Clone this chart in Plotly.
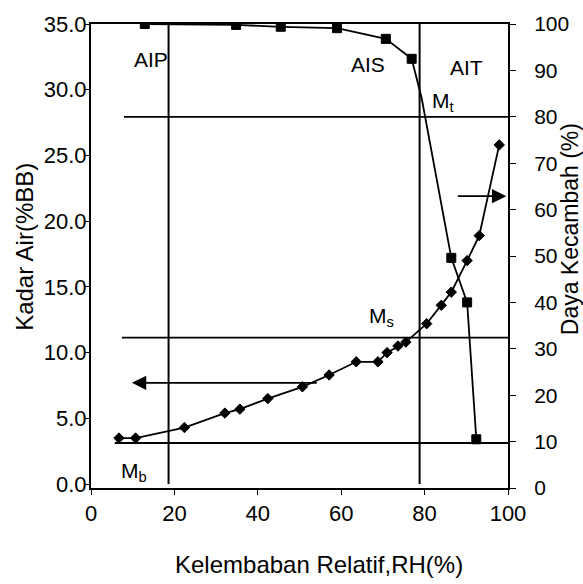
import plotly.graph_objects as go

# ---- data ----
rh_iso = [6.7, 10.7, 22.4, 32.1, 35.7, 42.4, 50.7, 57.1, 63.6, 68.8, 71.0, 73.6,
          75.5, 80.5, 84.0, 86.4, 90.2, 93.1, 97.9]
kadar_air = [3.5, 3.5, 4.3, 5.4, 5.7, 6.5, 7.4, 8.3, 9.3, 9.3, 10.0, 10.5,
             10.8, 12.2, 13.6, 14.6, 17.0, 18.9, 25.8]

rh_dk = [12.9, 34.8, 45.5, 59.0, 70.7, 76.9, 79.3, 86.4, 90.2, 92.4]
daya_kecambah = [100, 99.8, 99.4, 99.1, 96.8, 92.5, 84.0, 49.6, 40.0, 10.5]
dk_marker_size = [9, 9, 9, 9, 9, 9, 0, 9, 9, 9]

x_ticks = [0, 20, 40, 60, 80, 100]
y_left_ticks = [0, 5, 10, 15, 20, 25, 30, 35]
y_right_ticks = [0, 10, 20, 30, 40, 50, 60, 70, 80, 90, 100]

# boundary / guide lines
rh_aip_boundary = 18.6
rh_ais_boundary = 78.8
guide_mt = 80.0     # on right axis
guide_ms = 32.4     # on right axis
guide_mb = 9.7      # on right axis

FONT = "Liberation Sans, Arial, sans-serif"
BLACK = "#000000"

fig = go.Figure()

fig.add_trace(go.Scatter(
    x=rh_iso, y=kadar_air, mode="lines+markers",
    line=dict(color=BLACK, width=1.8),
    marker=dict(symbol="diamond", size=8, color=BLACK, opacity=1,
                line=dict(color=BLACK, width=1)),
    yaxis="y", showlegend=False))

fig.add_trace(go.Scatter(
    x=rh_dk, y=daya_kecambah, mode="lines+markers",
    line=dict(color=BLACK, width=1.8),
    marker=dict(symbol="square", size=dk_marker_size, color=BLACK, opacity=1,
                line=dict(color=BLACK, width=1)),
    opacity=1, yaxis="y2", showlegend=False))

shapes = [
    dict(type="line", xref="x", yref="y", x0=rh_aip_boundary, x1=rh_aip_boundary,
         y0=0, y1=35, line=dict(color=BLACK, width=2)),
    dict(type="line", xref="x", yref="y", x0=rh_ais_boundary, x1=rh_ais_boundary,
         y0=0, y1=35, line=dict(color=BLACK, width=2)),
    dict(type="line", xref="x", yref="y2", x0=7.9, x1=100, y0=guide_mt, y1=guide_mt,
         line=dict(color=BLACK, width=1.8)),
    dict(type="line", xref="x", yref="y2", x0=7.4, x1=100, y0=guide_ms, y1=guide_ms,
         line=dict(color=BLACK, width=1.8)),
    dict(type="line", xref="x", yref="y2", x0=5.7, x1=100, y0=guide_mb, y1=guide_mb,
         line=dict(color=BLACK, width=1.8)),
]

ann_font = dict(family=FONT, size=21, color=BLACK)
annotations = [
    dict(x=14.5, y=32.3, xref="x", yref="y", text="AIP", showarrow=False, font=ann_font),
    dict(x=66.4, y=31.9, xref="x", yref="y", text="AIS", showarrow=False, font=ann_font),
    dict(x=90.0, y=31.7, xref="x", yref="y", text="AIT", showarrow=False, font=ann_font),
    dict(x=84.5, y=29.1, xref="x", yref="y", text="M<sub>t</sub>", showarrow=False, font=ann_font),
    dict(x=69.7, y=12.7, xref="x", yref="y", text="M<sub>s</sub>", showarrow=False, font=ann_font),
    dict(x=10.2, y=0.9, xref="x", yref="y", text="M<sub>b</sub>", showarrow=False, font=ann_font),
    # arrows
    dict(x=9.8, y=7.7, xref="x", yref="y", ax=54.5, ay=7.7, axref="x", ayref="y",
         text="", showarrow=True, arrowhead=2, arrowsize=1.6, arrowwidth=1.8, arrowcolor=BLACK),
    dict(x=99.6, y=62.9, xref="x", yref="y2", ax=87.6, ay=62.9, axref="x", ayref="y2",
         text="", showarrow=True, arrowhead=2, arrowsize=1.6, arrowwidth=1.8, arrowcolor=BLACK),
    # axis titles
    dict(x=-0.158, y=0.52, xref="paper", yref="paper", text="Kadar Air(%BB)",
         xanchor="center", yanchor="middle",
         textangle=-90, showarrow=False, font=dict(family=FONT, size=24, color=BLACK)),
    dict(x=1.149, y=0.558, xref="paper", yref="paper", text="Daya Kecambah (%)",
         xanchor="center", yanchor="middle",
         textangle=-90, showarrow=False, font=dict(family=FONT, size=23, color=BLACK)),
    dict(x=0.547, y=-0.165, xref="paper", yref="paper", text="Kelembaban Relatif,RH(%)",
         xanchor="center", yanchor="middle",
         showarrow=False, font=dict(family=FONT, size=24, color=BLACK)),
]

tick_font = dict(family=FONT, size=22, color=BLACK)
fig.update_layout(
    width=583, height=584,
    margin=dict(l=91, r=75, t=22, b=96),
    paper_bgcolor="white", plot_bgcolor="white",
    shapes=shapes, annotations=annotations,
    xaxis=dict(range=[0, 100], tickvals=x_ticks, showgrid=False, zeroline=False,
               showline=True, linecolor=BLACK, linewidth=2, mirror=True,
               ticks="outside", ticklen=5, tickcolor=BLACK, tickfont=tick_font),
    yaxis=dict(range=[-0.3, 35], tickvals=y_left_ticks, tickformat=".1f",
               showgrid=False, zeroline=False, showline=True, linecolor=BLACK,
               linewidth=2, ticks="outside", ticklen=4, tickcolor=BLACK,
               tickfont=tick_font, ticklabelstandoff=-6),
    yaxis2=dict(range=[0, 100], tickvals=y_right_ticks, overlaying="y", side="right",
                showgrid=False, zeroline=False, showline=True, linecolor=BLACK,
                linewidth=2, ticks="outside", ticklen=6, tickcolor=BLACK,
                tickfont=dict(family=FONT, size=21, color=BLACK), ticklabelstandoff=14),
)

fig.write_html("out.html", config={"displayModeBar": False},
               post_script="document.body.style.margin='0';")
